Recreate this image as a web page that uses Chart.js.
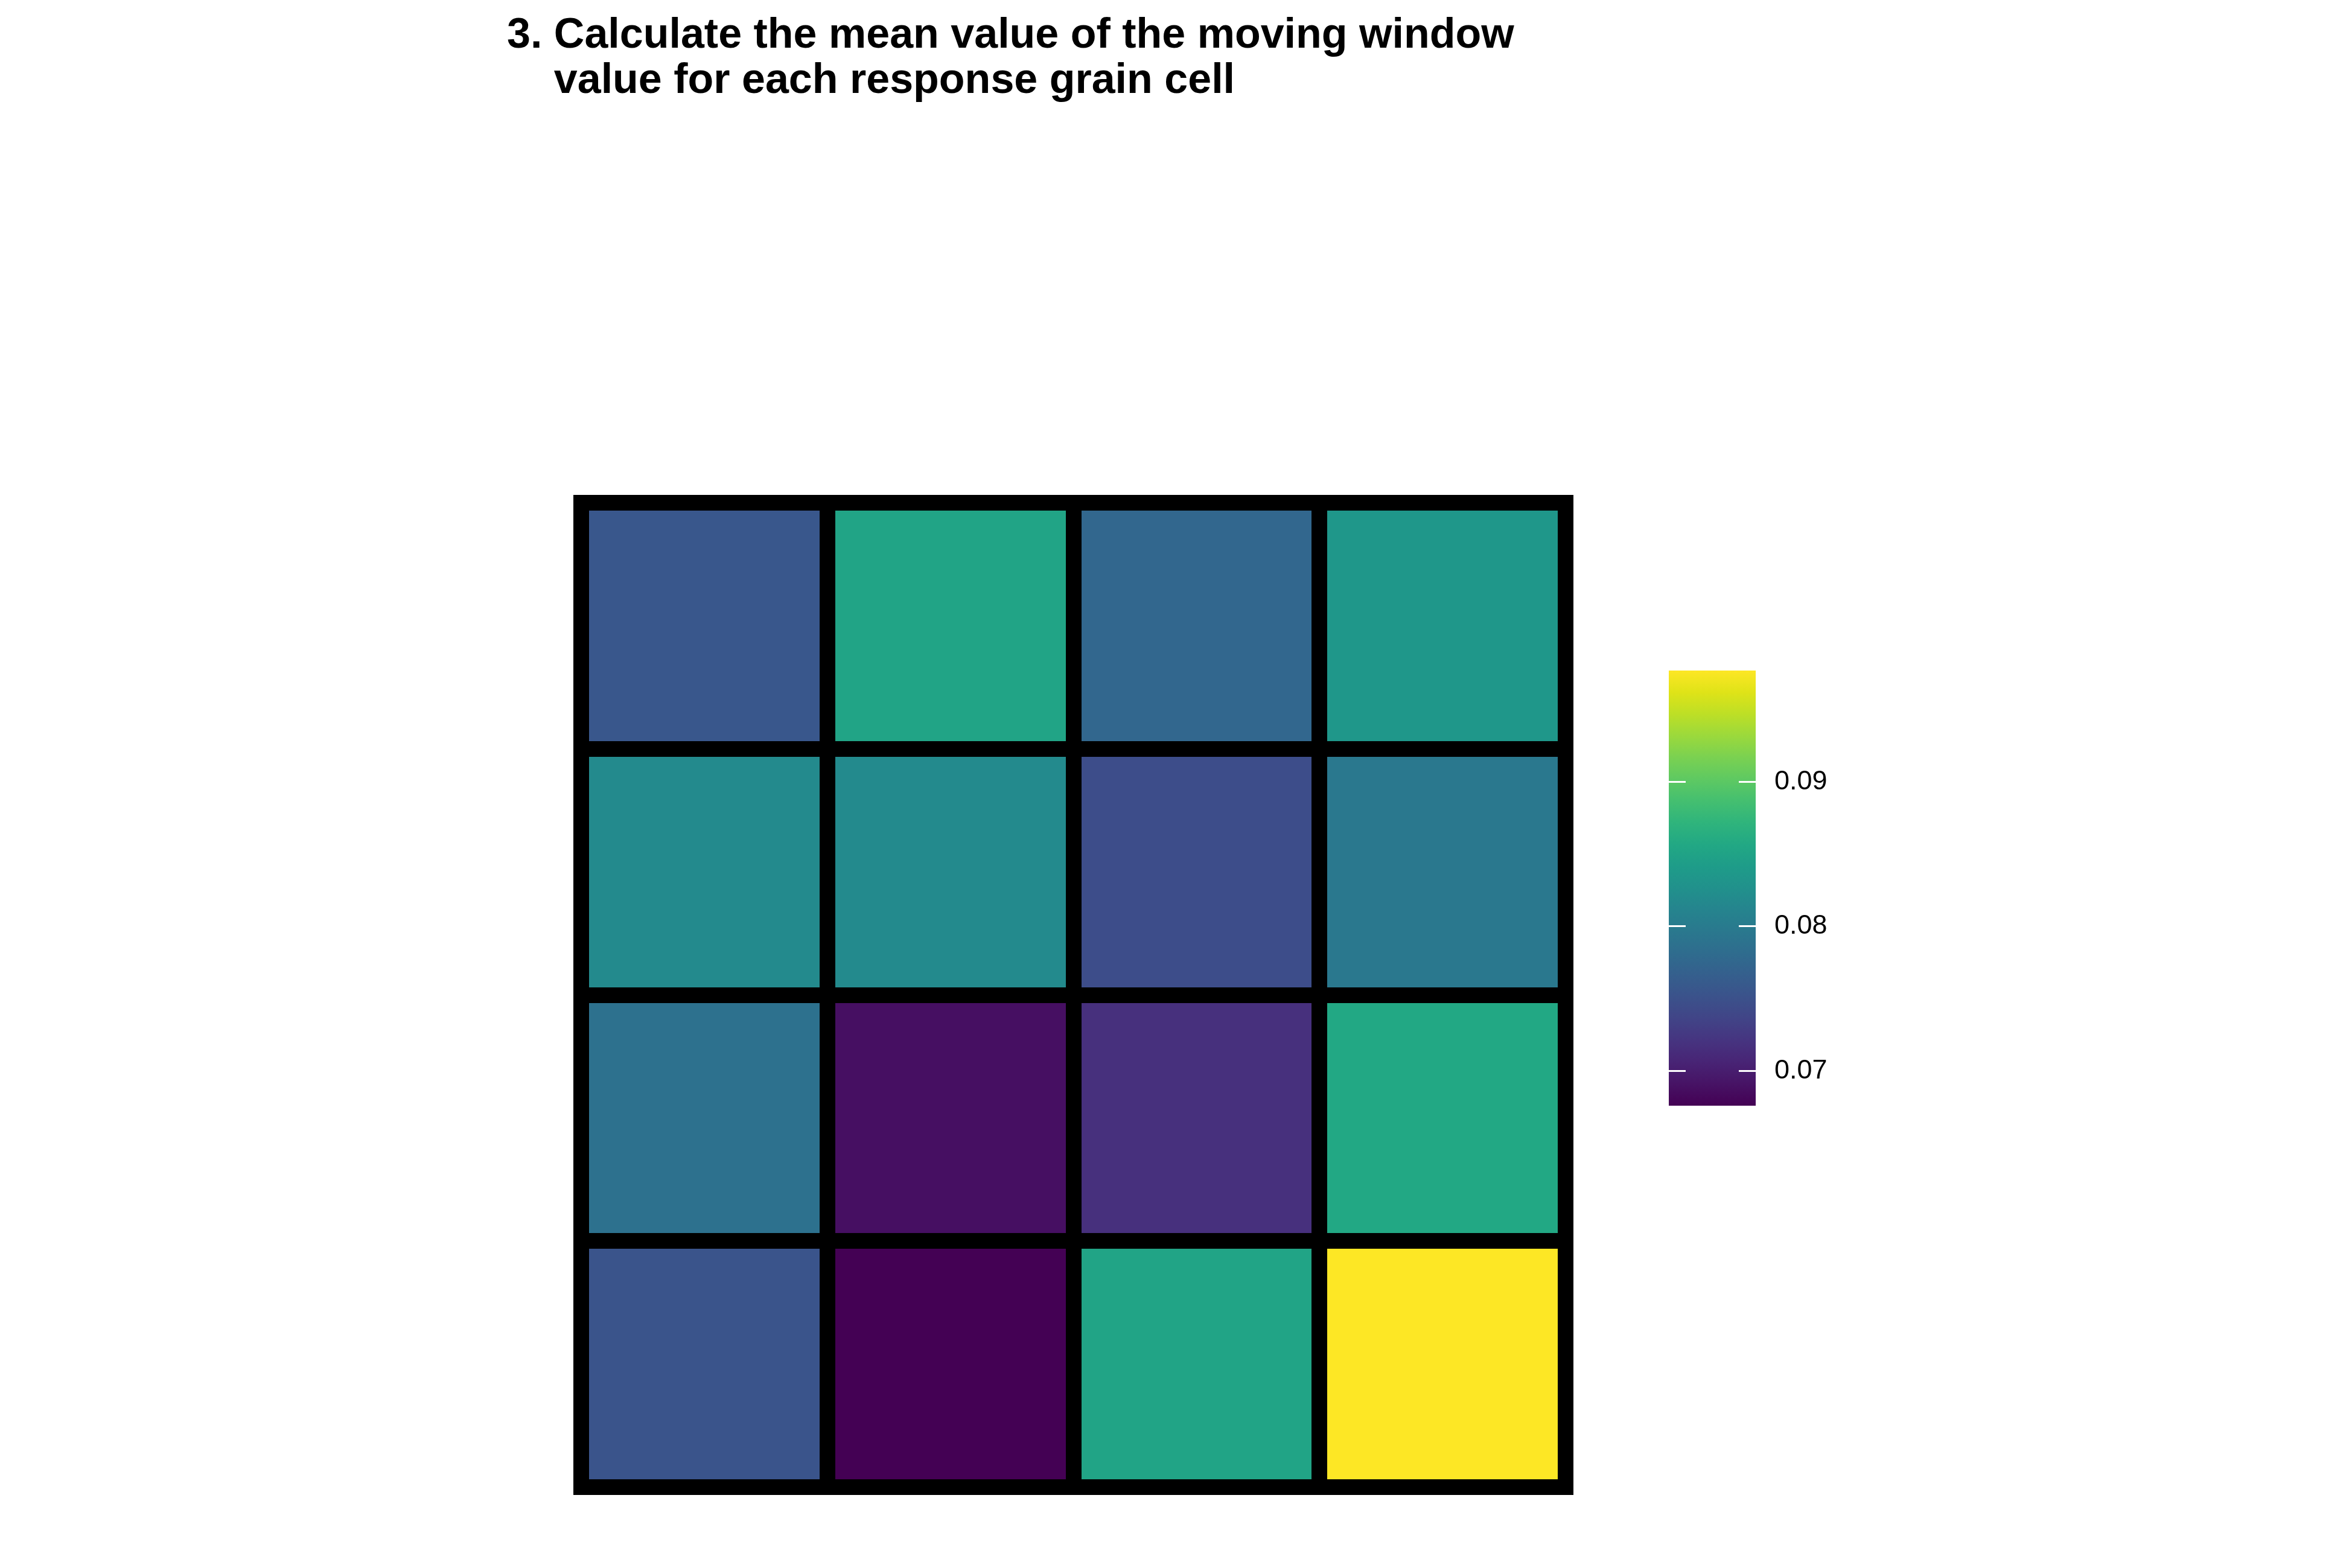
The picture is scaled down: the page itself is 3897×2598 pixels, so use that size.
<!DOCTYPE html>
<html>
<head>
<meta charset="utf-8">
<script src="https://cdn.jsdelivr.net/npm/chart.js@4/dist/chart.umd.min.js"></script>
<style>
  html, body { margin: 0; padding: 0; background: #ffffff; }
  body { width: 3897px; height: 2598px; position: relative; overflow: hidden; }
  #title {
    position: absolute; left: 840px; top: 18px;
    font-family: 'Liberation Sans', Arial, sans-serif; font-weight: bold;
    font-size: 70px; line-height: 75px; color: #000; white-space: pre;
  }
  #main { position: absolute; left: 0; top: 0; width: 3897px; height: 2598px; }
  #bar { position: absolute; left: 2700px; top: 1050px; width: 500px; height: 850px; }
</style>
</head>
<body>
<div id="title">3. Calculate the mean value of the moving window
    value for each response grain cell</div>
<div id="main"><canvas id="c1"></canvas></div>
<div id="bar"><canvas id="c2"></canvas></div>
<script>
// ---- data (rows listed top to bottom, columns left to right) ----
const columns = ['1', '2', '3', '4'];
const rowNames = ['1', '2', '3', '4'];
const row1 = [0.0757, 0.0851, 0.0775, 0.0835];
const row2 = [0.0818, 0.0818, 0.0746, 0.0796];
const row3 = [0.0787, 0.0688, 0.0717, 0.0857];
const row4 = [0.0754, 0.0676, 0.0851, 0.0977];
const legendTicks = [0.07, 0.08, 0.09];

const rows = [row1, row2, row3, row4];
const allVals = rows.flat();
const colorMin = Math.min(...allVals);
const colorMax = Math.max(...allVals);

// viridis colour map
const viridis = ['#440154','#471365','#482475','#463480','#414487','#3B528B','#355F8D',
  '#2F6C8E','#2A788E','#25848E','#21918C','#1E9C89','#22A884','#2FB47C','#44BF70',
  '#5EC962','#7AD151','#9BD93C','#BDDF26','#DFE318','#FDE725'];
function hexToRgb(h) { return [1,3,5].map(i => parseInt(h.substr(i, 2), 16)); }
function viridisAt(t) {
  t = Math.max(0, Math.min(1, t));
  const p = t * (viridis.length - 1);
  const i = Math.min(Math.floor(p), viridis.length - 2);
  const f = p - i;
  const a = hexToRgb(viridis[i]), b = hexToRgb(viridis[i + 1]);
  const c = a.map((v, k) => Math.round(v + (b[k] - v) * f));
  return 'rgb(' + c.join(',') + ')';
}
function colorFor(v) { return viridisAt((v - colorMin) / (colorMax - colorMin)); }

Chart.defaults.font.family = "'Liberation Sans', Arial, sans-serif";
Chart.defaults.color = '#000000';

const nRows = rows.length;
const datasets = rows.map((vals, r) => {
  const bottom = nRows - 1 - r;
  return {
    label: 'row ' + rowNames[r],
    data: vals.map(() => [bottom, bottom + 1]),
    values: vals,
    backgroundColor: vals.map(colorFor),
    borderWidth: 0,
    barPercentage: 1,
    categoryPercentage: 1,
    grouped: false
  };
});

const framePlugin = {
  id: 'frame',
  afterDraw(chart) {
    const a = chart.chartArea, ctx = chart.ctx;
    ctx.save();
    ctx.strokeStyle = '#000000';
    ctx.lineWidth = 26;
    ctx.lineJoin = 'miter';
    ctx.strokeRect(a.left, a.top, a.right - a.left, a.bottom - a.top);
    ctx.restore();
  }
};

new Chart(document.getElementById('c1'), {
  type: 'bar',
  data: { labels: columns, datasets },
  options: {
    responsive: true,
    maintainAspectRatio: false,
    animation: false,
    layout: { padding: { left: 963, top: 833, right: 1303, bottom: 134 } },
    plugins: { legend: { display: false }, tooltip: { enabled: false }, title: { display: false } },
    scales: {
      x: {
        type: 'category',
        offset: true,
        ticks: { display: false },
        grid: { display: true, offset: true, color: '#000000', lineWidth: 26, drawTicks: false, z: 1 },
        border: { display: false },
        afterFit(axis) { axis.height = 0; }
      },
      y: {
        type: 'linear',
        min: 0,
        max: nRows,
        ticks: { display: false, stepSize: 1 },
        grid: { display: true, color: '#000000', lineWidth: 26, drawTicks: false, z: 1 },
        border: { display: false },
        afterFit(axis) { axis.width = 0; }
      }
    }
  },
  plugins: [framePlugin]
});

// ---- colour bar legend ----
new Chart(document.getElementById('c2'), {
  type: 'bar',
  data: {
    labels: [''],
    datasets: [{
      data: [[colorMin, colorMax]],
      borderWidth: 0,
      barPercentage: 1,
      categoryPercentage: 1,
      backgroundColor(ctx) {
        const area = ctx.chart.chartArea;
        if (!area) return '#21918C';
        const g = ctx.chart.ctx.createLinearGradient(0, area.bottom, 0, area.top);
        viridis.forEach((c, i) => g.addColorStop(i / (viridis.length - 1), c));
        return g;
      }
    }]
  },
  options: {
    responsive: true,
    maintainAspectRatio: false,
    animation: false,
    layout: { padding: { left: 65, top: 61, right: 0, bottom: 68 } },
    plugins: { legend: { display: false }, tooltip: { enabled: false } },
    scales: {
      x: { display: false },
      y: {
        position: 'right',
        min: colorMin,
        max: colorMax,
        afterBuildTicks(axis) { axis.ticks = legendTicks.map(v => ({ value: v })); },
        ticks: {
          padding: 31,
          font: { size: 45 },
          color: '#000000',
          callback: v => Number(v).toFixed(2)
        },
        grid: { display: true, color: '#ffffff', lineWidth: 3, drawTicks: false, z: 1, borderDash: [28, 88] },
        border: { display: false, dash: [28, 88] },
        afterFit(axis) { axis.width = 291; }
      }
    }
  }
});
</script>
</body>
</html>
